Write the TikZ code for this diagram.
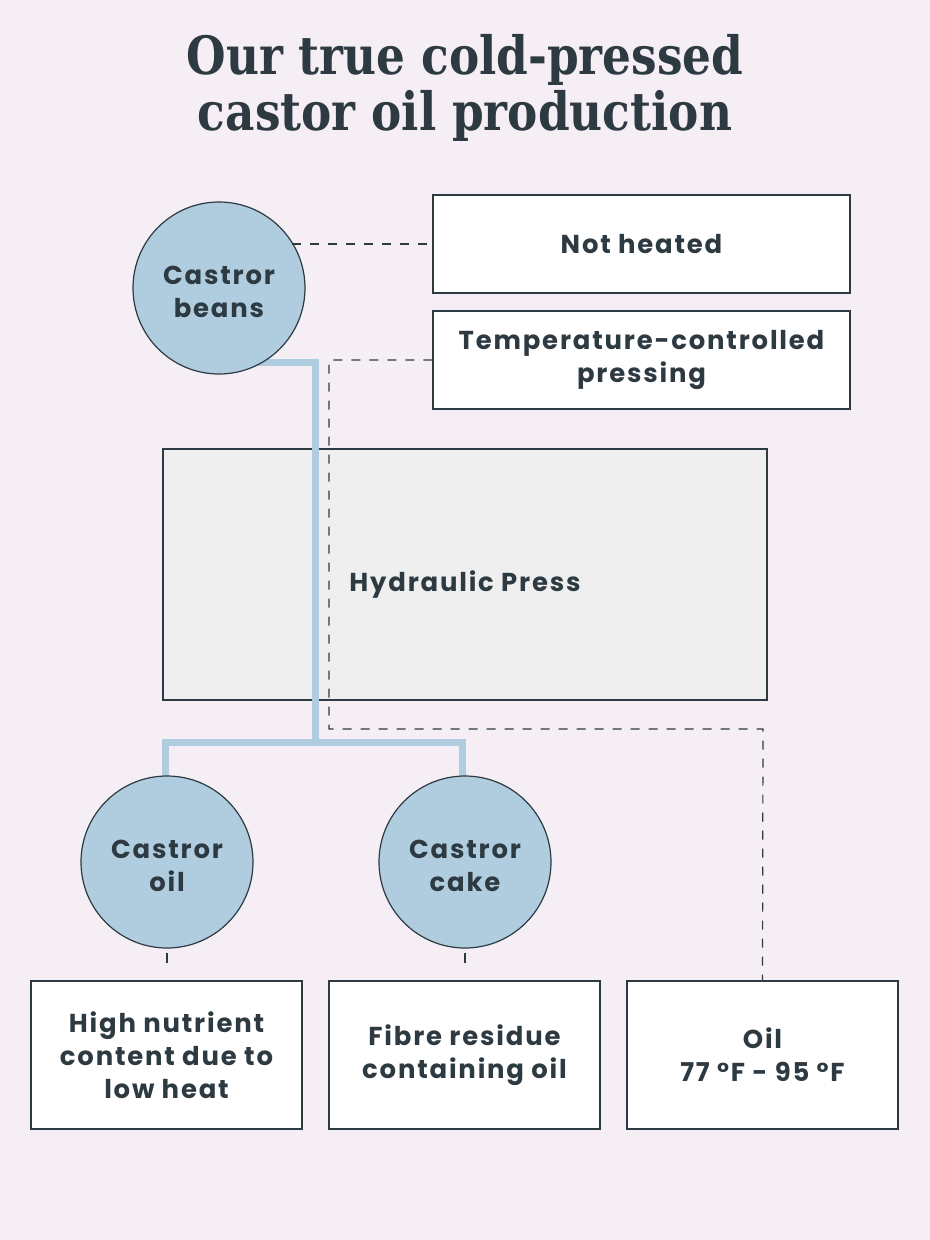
\documentclass[tikz,border=0pt]{standalone}
\usepackage{fontspec}
\setmainfont{Poppins}[LetterSpace=7]
\newfontfamily\titlefont{DejaVu Serif}
\definecolor{bg}{HTML}{F5EEF5}
\definecolor{ink}{HTML}{2E3A42}
\definecolor{blue}{HTML}{B0CDDF}
\definecolor{press}{HTML}{EFEFEF}
\tikzset{
  lbl/.style={font=\bfseries\fontsize{26}{33}\selectfont, text=ink, align=center},
  circ/.style={circle, draw=ink, line width=1.2bp, fill=blue, minimum size=172bp, inner sep=0pt, lbl},
  infobox/.style={draw=ink, line width=1.2bp, fill=white, lbl, inner sep=0pt},
  flow/.style={blue, line width=7bp},
  dashline/.style={ink, line width=1.2bp, dash pattern=on 9bp off 9bp},
}
\begin{document}
\begin{tikzpicture}[x=1bp,y=-1bp]
\fill[bg] (0,0) rectangle (930,1240);
\useasboundingbox (0,0) rectangle (930,1240);
\node[font=\titlefont\bfseries\fontsize{53}{57}\selectfont, text=ink, align=center, xscale=0.86, transform shape] (title) at (465,88) {Our true cold-pressed\\castor oil production};
% boxes
\node[infobox, minimum width=417bp, minimum height=98bp] (noth) at (641.5,244) {Not heated};
\node[infobox, minimum width=417bp, minimum height=98bp] (temp) at (641.5,360) {Temperature-controlled\\pressing};
\node[draw=ink, line width=1.2bp, fill=press, minimum width=604bp, minimum height=251bp, inner sep=0pt] (press) at (465,574.5) {};
\node[lbl] (presslbl) at (465,585) {Hydraulic Press};
% flow lines
\coordinate (b1) at (250,362);
\coordinate (b2) at (315,362);
\coordinate (b3) at (315,742);
\coordinate (b4) at (165,742);
\coordinate (b5) at (462,742);
\coordinate (b6) at (165,800);
\coordinate (b7) at (462,800);
\draw[flow] (b1) -- (b2) -- (b3);
\draw[flow] (b6) -- (b4) -- (b5) -- (b7);
\node[circ] (beans) at (219,288) {};
\node[circ] (oil) at (167,862) {};
\node[circ] (cake) at (465,862) {};
\node[lbl] (beanslbl) at (219,292) {Castror\\beans};
\node[lbl] (oillbl) at (167,866) {Castror\\oil};
\node[lbl] (cakelbl) at (465,866) {Castror\\cake};
% dashed
\coordinate (n1) at (292,244);
\draw[dashline] (n1) -- (noth.west);
\coordinate (t1) at (329,360);
\coordinate (t2) at (329,729);
\coordinate (t3) at (763,729);
\node[infobox, minimum width=271bp, minimum height=148bp] (hn) at (166.5,1055) {High nutrient\\content due to\\low heat};
\node[infobox, minimum width=271bp, minimum height=148bp] (fr) at (464.5,1055) {Fibre residue\\containing oil};
\node[infobox, minimum width=271bp, minimum height=148bp] (ot) at (762.5,1055) {Oil\\77 °F - 95 °F};
\draw[dashline] (temp.west) -- (t1) -- (t2) -- (t3) -- (ot.north);
\draw[ink, line width=1.2bp] (oil.south) ++(0,4) -- ++(0,10);
\draw[ink, line width=1.2bp] (cake.south) ++(0,4) -- ++(0,10);
\end{tikzpicture}
\end{document}
